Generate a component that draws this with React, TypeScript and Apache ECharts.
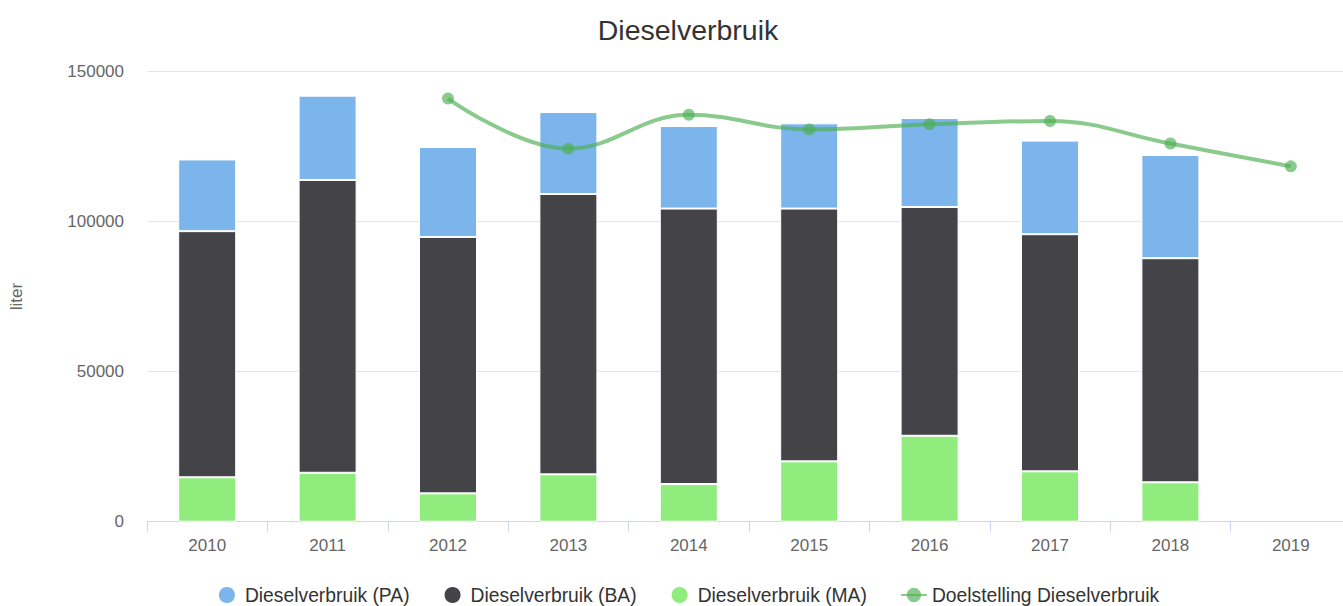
import React, { useEffect, useRef } from "react";
import * as echarts from "echarts";

const years = ["2010", "2011", "2012", "2013", "2014", "2015", "2016", "2017", "2018", "2019"];
const dieselPA = [23900, 28100, 29960, 27300, 27500, 28400, 29630, 31190, 34380, null];
const dieselBA = [82000, 97550, 85430, 93410, 91780, 84220, 76230, 79000, 74670, null];
const dieselMA = [14800, 16300, 9450, 15780, 12550, 20110, 28630, 16780, 13120, null];
const doelstelling = [null, null, 141000, 124300, 135600, 130700, 132400, 133500, 126000, 118400];

const FONT = "'Liberation Sans', Arial, Helvetica, sans-serif";

export default function App() {
  const ref = useRef<HTMLDivElement>(null);
  useEffect(() => {
    if (!ref.current) return;
    const chart = echarts.init(ref.current, undefined, { renderer: "svg" });
    const lineColor = "rgba(76,175,80,0.65)";
    chart.setOption({
      animation: false,
      backgroundColor: "#ffffff",
      textStyle: { fontFamily: FONT },
      title: {
        text: "Dieselverbruik",
        left: "center",
        top: 10,
        textStyle: { fontFamily: FONT, fontSize: 28.5, fontWeight: "normal", color: "#333333" },
      },
      legend: {
        bottom: -4,
        left: "center",
        itemGap: 33,
        itemWidth: 26,
        itemHeight: 18,
        data: [
          { name: "Dieselverbruik (PA)", icon: "circle" },
          { name: "Dieselverbruik (BA)", icon: "circle" },
          { name: "Dieselverbruik (MA)", icon: "circle" },
          { name: "Doelstelling Dieselverbruik" },
        ],
        textStyle: { fontFamily: FONT, fontSize: 19.3, color: "#333333" },
      },
      grid: { left: 143, right: 25, top: 71.5, bottom: 84.3, containLabel: false },
      xAxis: {
        type: "category",
        data: years,
        boundaryGap: true,
        axisLine: { lineStyle: { color: "#ccd6eb", width: 1 } },
        axisTick: { show: true, length: 10, lineStyle: { color: "#ccd6eb" } },
        axisLabel: { color: "#666666", fontSize: 17, margin: 15, fontFamily: FONT },
      },
      yAxis: {
        type: "value",
        min: 0,
        max: 150000,
        interval: 50000,
        name: "liter",
        nameLocation: "middle",
        nameGap: 122,
        nameRotate: 90,
        nameTextStyle: { color: "#666666", fontSize: 17, fontFamily: FONT },
        axisLine: { show: false },
        axisTick: { show: false },
        axisLabel: {
          color: "#666666",
          fontSize: 17,
          margin: 23,
          fontFamily: FONT,
          formatter: (v: number) => String(v),
        },
        splitLine: { lineStyle: { color: "#e6e6e6", width: 1 } },
      },
      series: [
        {
          name: "Dieselverbruik (MA)",
          type: "bar",
          stack: "total",
          data: dieselMA,
          barWidth: 58,
          itemStyle: { color: "#90ed7d", borderColor: "#ffffff", borderWidth: 1 },
        },
        {
          name: "Dieselverbruik (BA)",
          type: "bar",
          stack: "total",
          data: dieselBA,
          barWidth: 58,
          itemStyle: { color: "#434348", borderColor: "#ffffff", borderWidth: 1 },
        },
        {
          name: "Dieselverbruik (PA)",
          type: "bar",
          stack: "total",
          data: dieselPA,
          barWidth: 58,
          itemStyle: { color: "#7cb5ec", borderColor: "#ffffff", borderWidth: 1 },
        },
        {
          name: "Doelstelling Dieselverbruik",
          type: "line",
          data: doelstelling,
          smooth: 0.4,
          symbol: "circle",
          symbolSize: 12,
          showSymbol: true,
          lineStyle: { color: lineColor, width: 4 },
          itemStyle: { color: lineColor, borderWidth: 0 },
          z: 5,
        },
      ],
    });
    return () => chart.dispose();
  }, []);
  return (
    <div style={{ position: "fixed", left: 0, top: 0, width: "1343px", height: "606px", overflow: "hidden", background: "#fff" }}>
      <div ref={ref} style={{ width: "1376px", height: "606px" }} />
    </div>
  );
}
